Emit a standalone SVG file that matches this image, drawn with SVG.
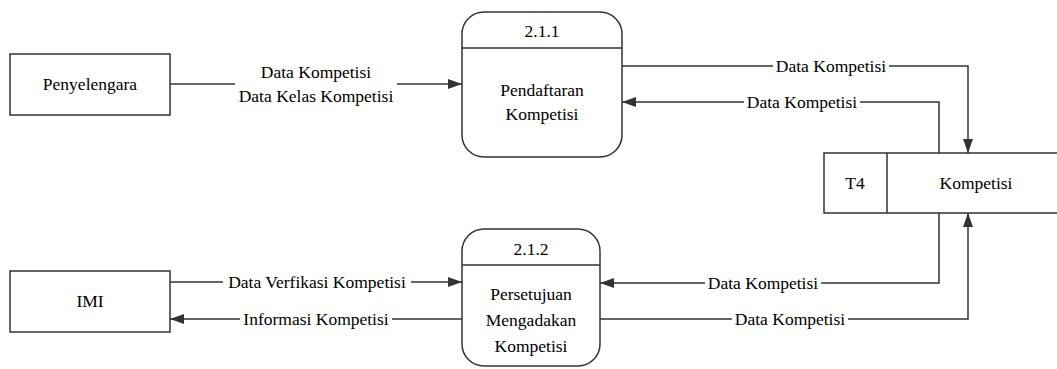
<svg xmlns="http://www.w3.org/2000/svg" width="1057" height="369" viewBox="0 0 1057 369">
  <defs>
    <marker id="arrow" viewBox="0 0 14 10" refX="14" refY="5" markerWidth="14" markerHeight="10" markerUnits="userSpaceOnUse" orient="auto">
      <path d="M0,0 L14,5 L0,10 Z" fill="#333"/>
    </marker>
  </defs>
  <rect width="1057" height="369" fill="#fff"/>

  <!-- connectors -->
  <g id="connectors">
    <g fill="none" stroke="#333" stroke-width="1.5" marker-end="url(#arrow)">
      <path d="M170,84 H462"/>
      <path d="M622,66 H968 V153"/>
      <path d="M939,153 V102 H622"/>
      <path d="M939,213 V283 H600"/>
      <path d="M600,319 H968 V213"/>
      <path d="M170,282 H462"/>
      <path d="M462,319 H170"/>
    </g>

    <!-- white patches that break the lines under the labels -->
    <g fill="#fff">
      <rect x="235" y="62" width="162" height="44"/>
      <rect x="773" y="57" width="116" height="18"/>
      <rect x="744" y="93" width="116" height="18"/>
      <rect x="705" y="274" width="116" height="18"/>
      <rect x="732" y="310" width="116" height="18"/>
      <rect x="223" y="273" width="188" height="18"/>
      <rect x="240" y="310" width="152" height="18"/>
    </g>

    <text x="316" y="78" font-family="Liberation Serif" font-size="17.5" text-anchor="middle">Data Kompetisi</text>
    <text x="316" y="102" font-family="Liberation Serif" font-size="17.5" text-anchor="middle">Data Kelas Kompetisi</text>
    <text x="831" y="72" font-family="Liberation Serif" font-size="17.5" text-anchor="middle">Data Kompetisi</text>
    <text x="802" y="108" font-family="Liberation Serif" font-size="17.5" text-anchor="middle">Data Kompetisi</text>
    <text x="763" y="289" font-family="Liberation Serif" font-size="17.5" text-anchor="middle">Data Kompetisi</text>
    <text x="790" y="325" font-family="Liberation Serif" font-size="17.5" text-anchor="middle">Data Kompetisi</text>
    <text x="317" y="288" font-family="Liberation Serif" font-size="17.5" text-anchor="middle">Data Verfikasi Kompetisi</text>
    <text x="316" y="325" font-family="Liberation Serif" font-size="17.5" text-anchor="middle">Informasi Kompetisi</text>
  </g>

  <!-- external entity: Penyelengara -->
  <g id="penyelengara">
    <rect x="10" y="54" width="160" height="61" fill="#fff" stroke="#333" stroke-width="1.5"/>
    <text x="90" y="90" font-family="Liberation Serif" font-size="17.5" text-anchor="middle">Penyelengara</text>
  </g>

  <!-- external entity: IMI -->
  <g id="imi">
    <rect x="10" y="271" width="160" height="61" fill="#fff" stroke="#333" stroke-width="1.5"/>
    <text x="90" y="307" font-family="Liberation Serif" font-size="17.5" text-anchor="middle">IMI</text>
  </g>

  <!-- process 2.1.1 -->
  <g id="proc-211">
    <rect x="462" y="12" width="160" height="145" rx="22" ry="22" fill="#fff" stroke="#333" stroke-width="1.5"/>
    <line x1="462" y1="48" x2="622" y2="48" stroke="#333" stroke-width="1.5"/>
    <text x="542" y="37" font-family="Liberation Serif" font-size="17.5" text-anchor="middle">2.1.1</text>
    <text x="542" y="96" font-family="Liberation Serif" font-size="17.5" text-anchor="middle">Pendaftaran</text>
    <text x="542" y="120" font-family="Liberation Serif" font-size="17.5" text-anchor="middle">Kompetisi</text>
  </g>

  <!-- process 2.1.2 -->
  <g id="proc-212">
    <rect x="462" y="229" width="138" height="137" rx="22" ry="22" fill="#fff" stroke="#333" stroke-width="1.5"/>
    <line x1="462" y1="265" x2="600" y2="265" stroke="#333" stroke-width="1.5"/>
    <text x="531" y="255" font-family="Liberation Serif" font-size="17.5" text-anchor="middle">2.1.2</text>
    <text x="531" y="300" font-family="Liberation Serif" font-size="17.5" text-anchor="middle">Persetujuan</text>
    <text x="531" y="326" font-family="Liberation Serif" font-size="17.5" text-anchor="middle">Mengadakan</text>
    <text x="531" y="352" font-family="Liberation Serif" font-size="17.5" text-anchor="middle">Kompetisi</text>
  </g>

  <!-- data store T4 -->
  <g id="store-t4">
    <rect x="824" y="153" width="240" height="60" fill="#fff" stroke="#333" stroke-width="1.5"/>
    <line x1="887" y1="153" x2="887" y2="213" stroke="#333" stroke-width="1.5"/>
    <text x="855" y="189" font-family="Liberation Serif" font-size="17.5" text-anchor="middle">T4</text>
    <text x="976" y="189" font-family="Liberation Serif" font-size="17.5" text-anchor="middle">Kompetisi</text>
  </g>
</svg>
